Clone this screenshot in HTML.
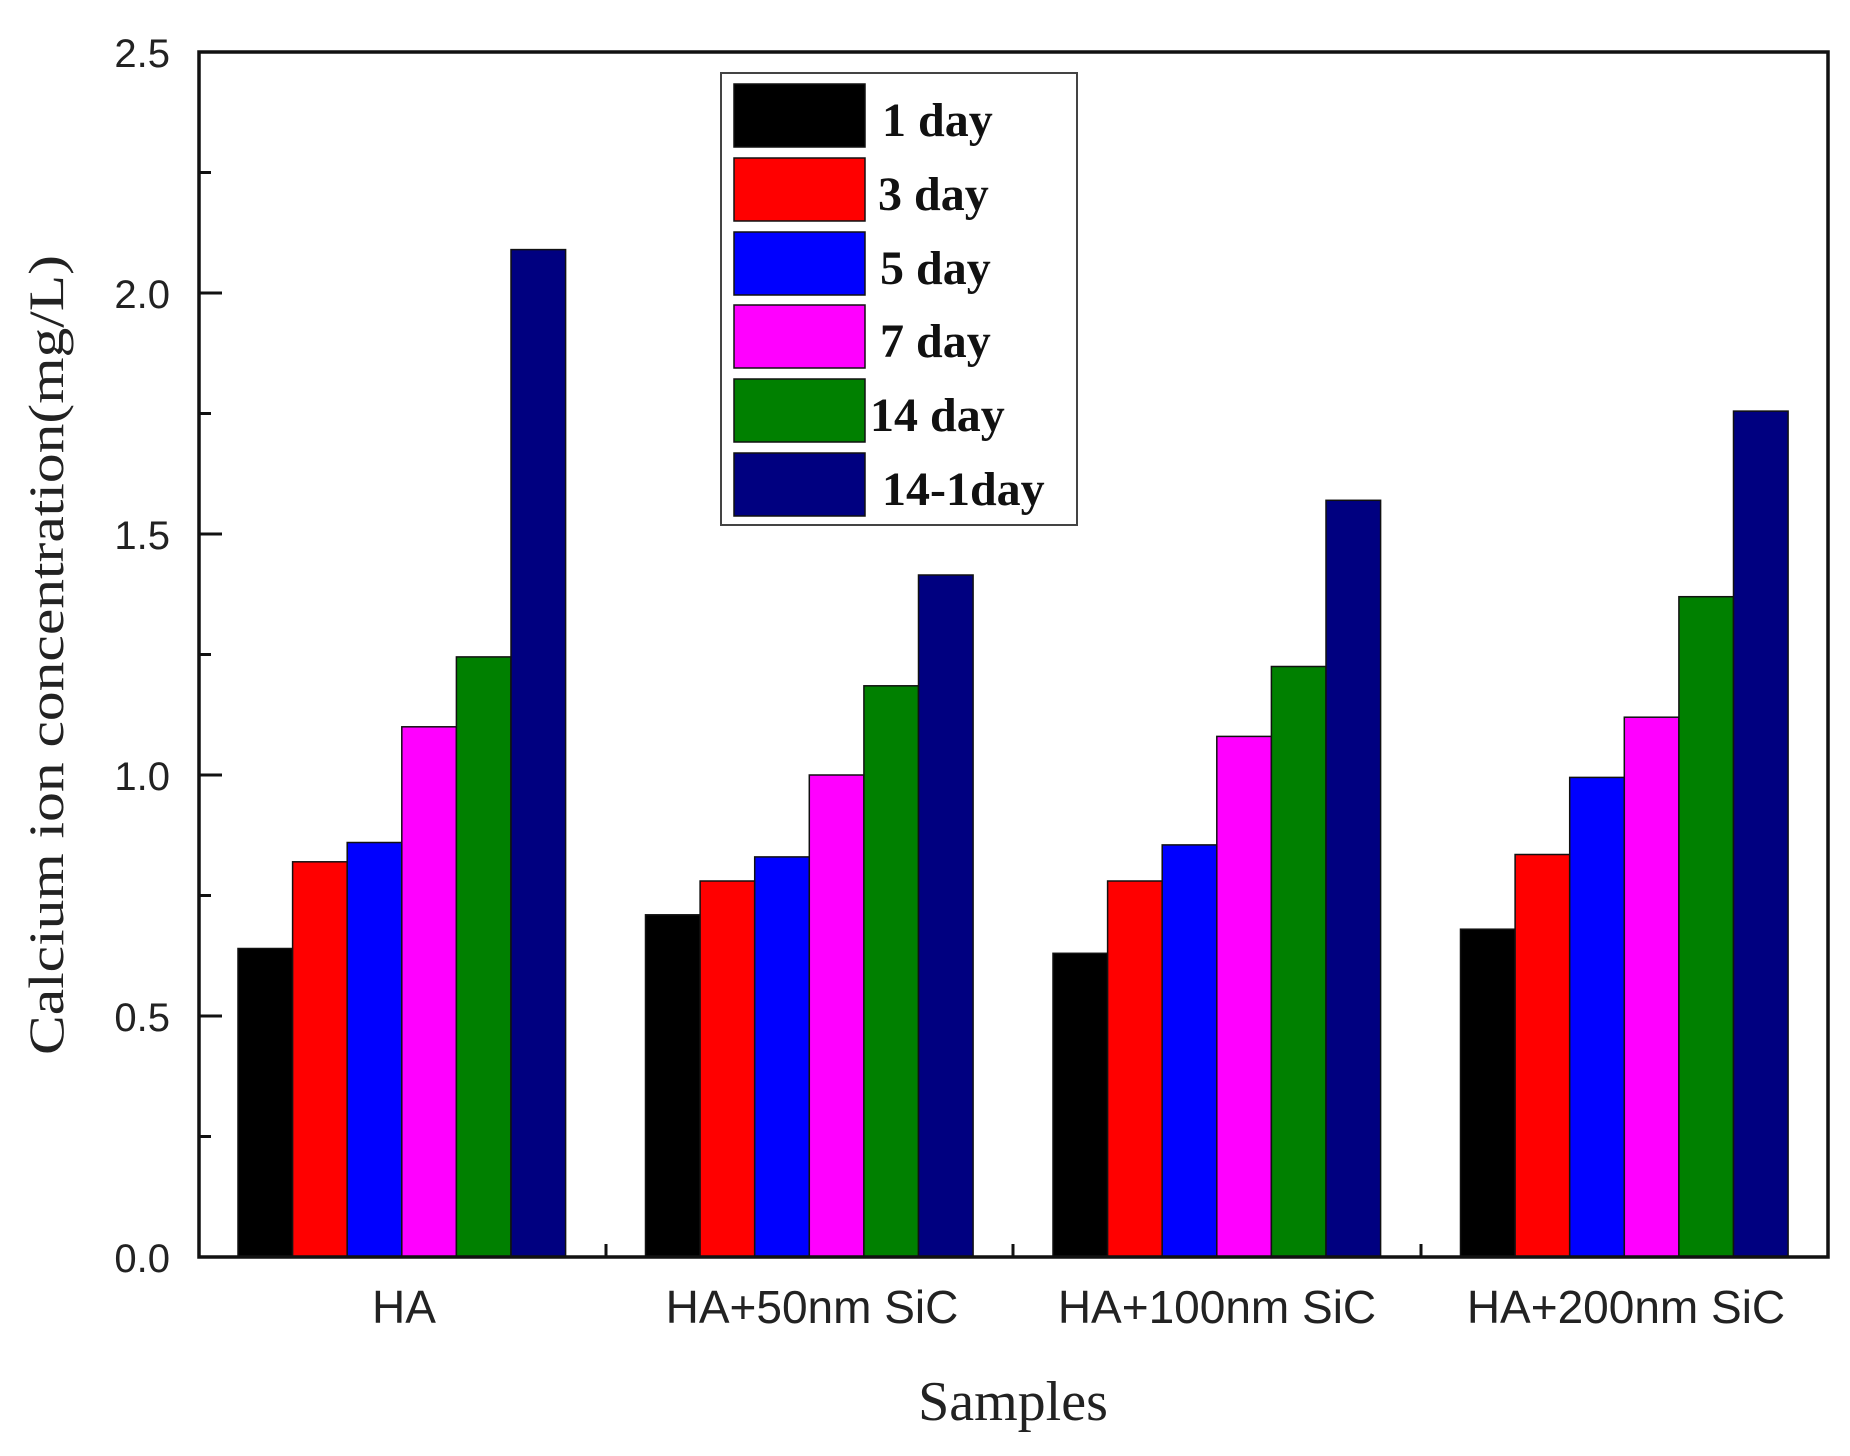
<!DOCTYPE html>
<html><head><meta charset="utf-8"><style>html,body{margin:0;padding:0;background:#fff}</style></head><body>
<svg width="1850" height="1451" xmlns="http://www.w3.org/2000/svg">
<rect width="1850" height="1451" fill="#fff"/>
<g stroke="#111" stroke-width="1.5">
<rect x="238" y="948.5" width="54.6" height="308.5" fill="#000"/>
<rect x="292.6" y="861.8" width="54.6" height="395.2" fill="#f00"/>
<rect x="347.2" y="842.5" width="54.6" height="414.5" fill="#00f"/>
<rect x="401.8" y="726.8" width="54.6" height="530.2" fill="#f0f"/>
<rect x="456.4" y="656.9" width="54.6" height="600.1" fill="#008000"/>
<rect x="511" y="249.6" width="54.6" height="1007.4" fill="#000080"/>
<rect x="645.5" y="914.8" width="54.6" height="342.2" fill="#000"/>
<rect x="700.1" y="881" width="54.6" height="376" fill="#f00"/>
<rect x="754.7" y="856.9" width="54.6" height="400.1" fill="#00f"/>
<rect x="809.3" y="775" width="54.6" height="482" fill="#f0f"/>
<rect x="863.9" y="685.8" width="54.6" height="571.2" fill="#008000"/>
<rect x="918.5" y="575" width="54.6" height="682" fill="#000080"/>
<rect x="1053" y="953.3" width="54.6" height="303.7" fill="#000"/>
<rect x="1107.6" y="881" width="54.6" height="376" fill="#f00"/>
<rect x="1162.2" y="844.9" width="54.6" height="412.1" fill="#00f"/>
<rect x="1216.8" y="736.4" width="54.6" height="520.6" fill="#f0f"/>
<rect x="1271.4" y="666.5" width="54.6" height="590.5" fill="#008000"/>
<rect x="1326" y="500.3" width="54.6" height="756.7" fill="#000080"/>
<rect x="1460.5" y="929.2" width="54.6" height="327.8" fill="#000"/>
<rect x="1515.1" y="854.5" width="54.6" height="402.5" fill="#f00"/>
<rect x="1569.7" y="777.4" width="54.6" height="479.6" fill="#00f"/>
<rect x="1624.3" y="717.2" width="54.6" height="539.8" fill="#f0f"/>
<rect x="1678.9" y="596.7" width="54.6" height="660.3" fill="#008000"/>
<rect x="1733.5" y="411.1" width="54.6" height="845.9" fill="#000080"/>
</g>
<rect x="199" y="52" width="1629" height="1205" fill="none" stroke="#111" stroke-width="3.5"/>
<g stroke="#111" stroke-width="3">
<line x1="199" y1="1016" x2="222" y2="1016"/><line x1="199" y1="775" x2="222" y2="775"/><line x1="199" y1="534" x2="222" y2="534"/><line x1="199" y1="293" x2="222" y2="293"/>
<line x1="199" y1="1136.5" x2="211" y2="1136.5"/><line x1="199" y1="895.5" x2="211" y2="895.5"/><line x1="199" y1="654.5" x2="211" y2="654.5"/><line x1="199" y1="413.5" x2="211" y2="413.5"/><line x1="199" y1="172.5" x2="211" y2="172.5"/>
<line x1="606" y1="1257" x2="606" y2="1244"/><line x1="1013" y1="1257" x2="1013" y2="1244"/><line x1="1421" y1="1257" x2="1421" y2="1244"/>
</g>
<g font-family="Liberation Sans, sans-serif" font-size="40" fill="#222" text-anchor="end">
<text x="170" y="1272">0.0</text><text x="170" y="1031">0.5</text><text x="170" y="790">1.0</text><text x="170" y="549">1.5</text><text x="170" y="308">2.0</text><text x="170" y="67">2.5</text>
</g>
<g font-family="Liberation Sans, sans-serif" font-size="46" fill="#222" text-anchor="middle">
<text x="404" y="1323">HA</text><text x="812" y="1323">HA+50nm SiC</text><text x="1217" y="1323">HA+100nm SiC</text><text x="1626" y="1323">HA+200nm SiC</text>
</g>
<text x="1013" y="1420" font-family="Liberation Serif, serif" font-size="56" fill="#222" text-anchor="middle">Samples</text>
<text transform="translate(63,655) rotate(-90)" font-family="Liberation Serif, serif" font-size="50" fill="#222" text-anchor="middle" textLength="800" lengthAdjust="spacingAndGlyphs">Calcium ion concentration(mg/L)</text>
<rect x="721" y="73" width="356" height="452" fill="#fff" stroke="#444" stroke-width="2"/>
<g stroke="#111" stroke-width="1.5">
<rect x="734" y="84" width="131" height="63" fill="#000"/>
<rect x="734" y="158" width="131" height="63" fill="#f00"/>
<rect x="734" y="232" width="131" height="63" fill="#00f"/>
<rect x="734" y="305" width="131" height="63" fill="#f0f"/>
<rect x="734" y="379" width="131" height="63" fill="#008000"/>
<rect x="734" y="453" width="131" height="63" fill="#000080"/>
</g>
<g font-family="Liberation Serif, serif" font-weight="bold" font-size="48" fill="#111">
<text x="882" y="136">1 day</text><text x="878" y="210">3 day</text><text x="880" y="284">5 day</text><text x="880" y="357">7 day</text><text x="870" y="431">14 day</text><text x="882" y="505">14-1day</text>
</g>
</svg>
</body></html>
